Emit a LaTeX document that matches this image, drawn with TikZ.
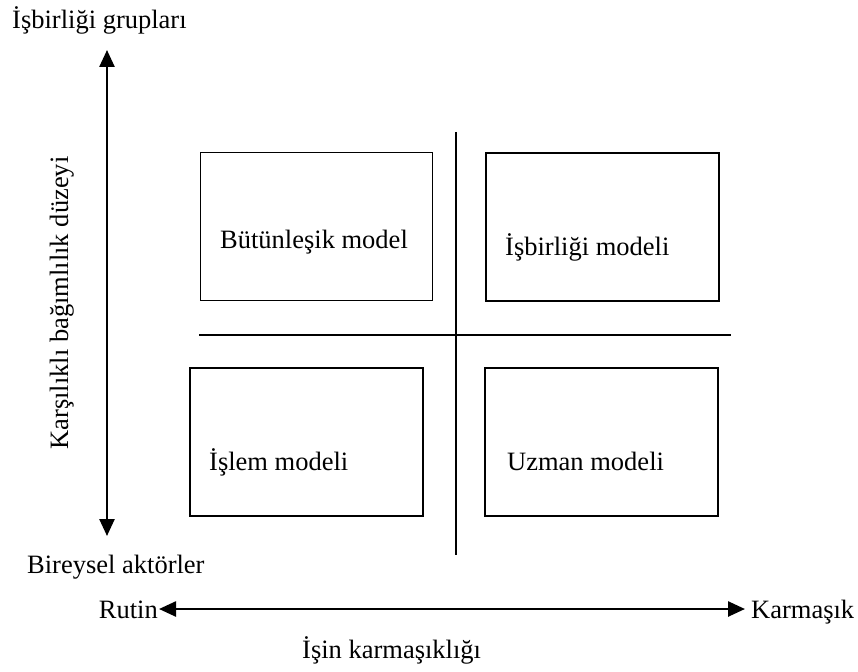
\documentclass[tikz,border=0pt]{standalone}
\usepackage{fontspec}
\setmainfont{Liberation Serif}
\usetikzlibrary{arrows.meta}
\begin{document}
\begin{tikzpicture}[x=1pt,y=-1pt,
  lbl/.style={inner sep=0pt,font=\fontsize{26.5}{30}\selectfont},
  quad/.style={draw,line width=2pt,inner sep=0pt,anchor=north west},
  thinquad/.style={draw,line width=1pt,inner sep=0pt,anchor=north west},
  axis/.style={line width=2.5pt,{Triangle[length=17pt,width=15pt]}-{Triangle[length=17pt,width=15pt]}},
  sep/.style={line width=2pt}]
\useasboundingbox (0,0) rectangle (858,671);
% boxes
\node[thinquad,minimum width=232pt,minimum height=148pt] (bm) at (200,152) {};
\node[quad,minimum width=233pt,minimum height=148pt] (im) at (485,152) {};
\node[quad,minimum width=233pt,minimum height=148pt] (lm) at (189,367) {};
\node[quad,minimum width=233pt,minimum height=148pt] (um) at (484,367) {};
% box texts
\node[lbl,anchor=base] (bmt) at (314,248) {Bütünleşik model};
\node[lbl,anchor=base west] (imt) at (505,255) {İşbirliği modeli};
\node[lbl,anchor=base west] (lmt) at (209,470) {İşlem modeli};
\node[lbl,anchor=base west] (umt) at (507,470) {Uzman modeli};
% separators
\coordinate (vt) at (456,132);
\coordinate (vb) at (456,555);
\coordinate (hl) at (199,335);
\coordinate (hr) at (731,335);
\draw[sep] (vt) -- (vb);
\draw[sep] (hl) -- (hr);
% vertical axis
\coordinate (at) at (107,50);
\coordinate (ab) at (107,536);
\draw[axis] (ab) -- (at);
\node[lbl,anchor=base west] (top) at (12,29) {İşbirliği grupları};
\node[lbl,anchor=base west] (bot) at (27,573) {Bireysel aktörler};
\node[lbl,anchor=base,rotate=90] (ylab) at (68,303) {Karşılıklı bağımlılık düzeyi};
% horizontal axis
\node[lbl,anchor=base east] (rutin) at (158,618) {Rutin};
\node[lbl,anchor=base west] (karm) at (751,618) {Karmaşık};
\coordinate (al) at (159,609);
\coordinate (ar) at (745,609);
\draw[axis] (al) -- (ar);
\node[lbl,anchor=base west] (xlab) at (302,658) {İşin karmaşıklığı};
\end{tikzpicture}
\end{document}
